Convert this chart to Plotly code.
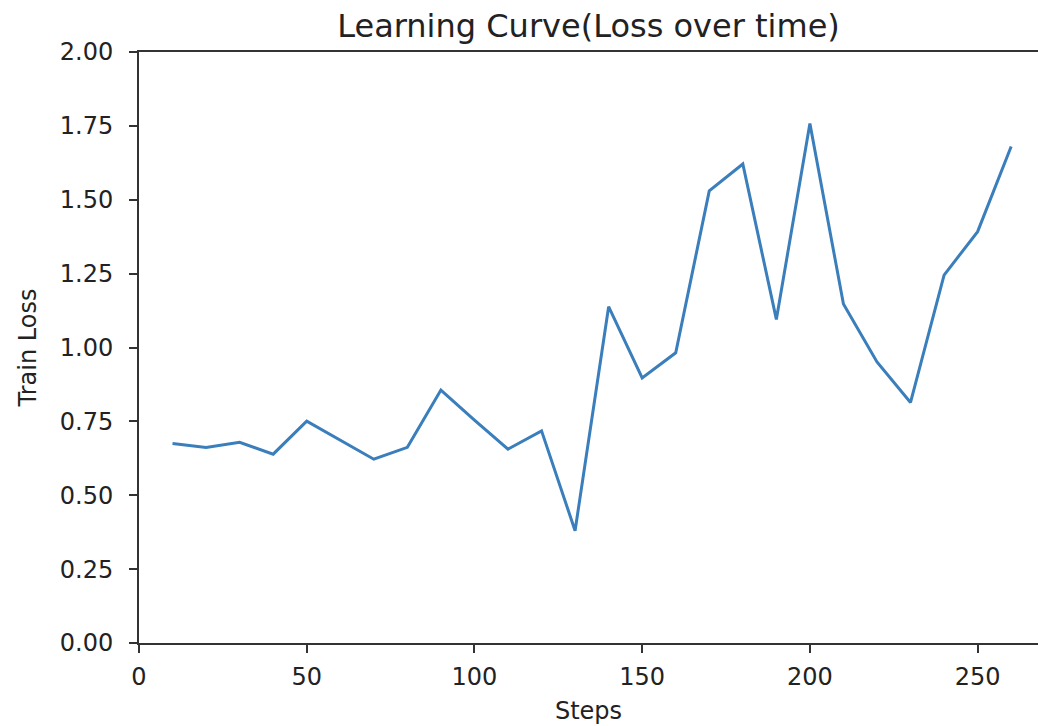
import plotly.graph_objects as go

steps = [10, 20, 30, 40, 50, 60, 70, 80, 90, 100, 110, 120, 130,
         140, 150, 160, 170, 180, 190, 200, 210, 220, 230, 240, 250, 260]
train_loss = [0.675, 0.662, 0.679, 0.639, 0.751, 0.686, 0.622, 0.662, 0.856, 0.754,
              0.656, 0.718, 0.38, 1.138, 0.897, 0.982, 1.530, 1.621, 1.095, 1.758,
              1.147, 0.951, 0.814, 1.245, 1.392, 1.680]
y_ticks = [0, 0.25, 0.5, 0.75, 1.0, 1.25, 1.5, 1.75, 2.0]
x_ticks = [0, 50, 100, 150, 200, 250]

FONT = "DejaVu Sans"
TXT = "#222222"

fig = go.Figure()
fig.add_trace(go.Scatter(
    x=steps, y=train_loss, mode="lines",
    line=dict(color="#3a7ebb", width=3),
    showlegend=False,
))

fig.update_layout(
    width=1038, height=726,
    margin=dict(l=139, r=0, t=52, b=83),
    paper_bgcolor="white", plot_bgcolor="white",
    font=dict(family=FONT, size=24, color=TXT),
    title=dict(text="Learning Curve(Loss over time)", xref="paper", x=0.5, xanchor="center",
               y=1 - 26 / 726, yanchor="middle",
               font=dict(family=FONT, size=32, color=TXT)),
)
fig.update_xaxes(
    range=[0, 268], tickvals=x_ticks, ticktext=[str(v) for v in x_ticks],
    showgrid=False, zeroline=False,
    showline=True, linecolor="#333333", linewidth=2, mirror=True,
    ticks="outside", ticklen=8, tickwidth=2, tickcolor="#333333",
    tickfont=dict(family=FONT, size=24, color=TXT),
    ticklabelstandoff=3,
    title=dict(text="Steps", font=dict(family=FONT, size=24, color=TXT), standoff=12),
)
fig.update_yaxes(
    range=[0, 2], tickvals=y_ticks, ticktext=[f"{v:.2f}" for v in y_ticks],
    showgrid=False, zeroline=False,
    showline=True, linecolor="#333333", linewidth=2, mirror=False,
    ticks="outside", ticklen=8, tickwidth=2, tickcolor="#333333",
    tickfont=dict(family=FONT, size=24, color=TXT),
    ticklabelstandoff=11,
    title=dict(text="Train Loss", font=dict(family=FONT, size=24, color=TXT), standoff=16),
)

fig.write_html("out.html")
